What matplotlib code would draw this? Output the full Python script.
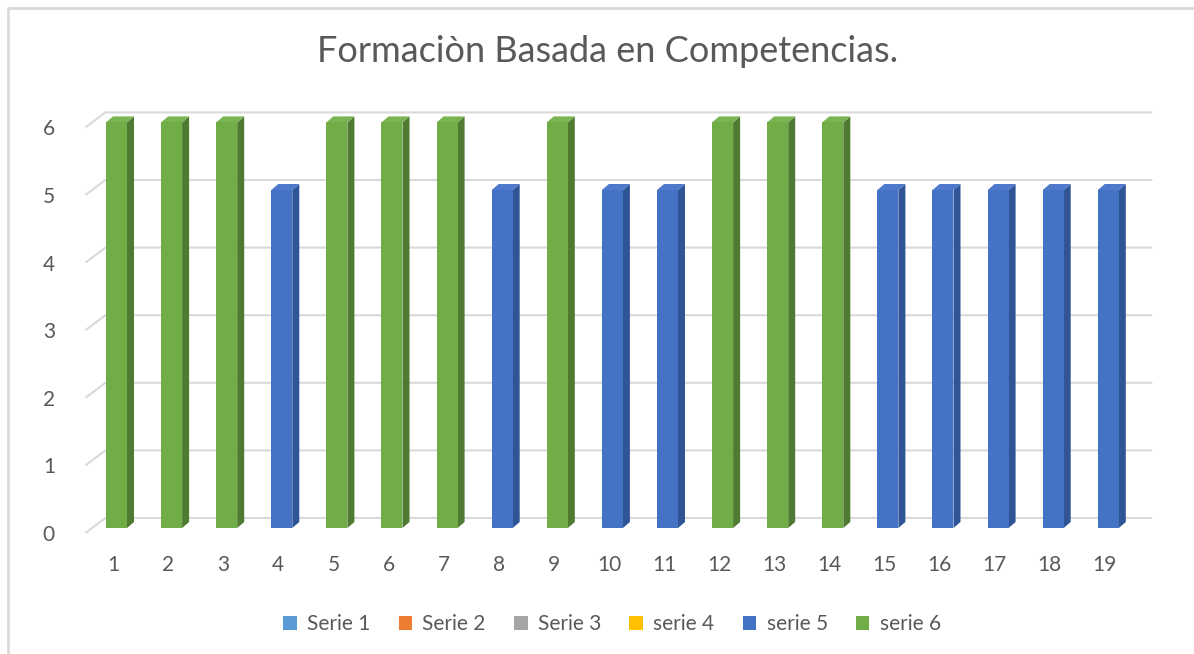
"""Formaciòn Basada en Competencias - 3D-style column chart."""
import numpy as np
import matplotlib
matplotlib.use('Agg')
import matplotlib.pyplot as plt
from matplotlib.patches import Patch
from matplotlib.lines import Line2D

plt.rcParams['font.family'] = ['Lato', 'DejaVu Sans']

# data
categories = [str(i) for i in range(1, 20)]
serie5 = [0, 0, 0, 5, 0, 0, 0, 5, 0, 5, 5, 0, 0, 0, 5, 5, 5, 5, 5]
serie6 = [6, 6, 6, 0, 6, 6, 6, 0, 6, 0, 0, 6, 6, 6, 0, 0, 0, 0, 0]
legend_names = ['Serie 1', 'Serie 2', 'Serie 3', 'serie 4', 'serie 5', 'serie 6']
legend_colors = ['#5B9BD5', '#ED7D31', '#A5A5A5', '#FFC000', '#4472C4', '#70AD47']
yticks = [0, 1, 2, 3, 4, 5, 6]

C_BLUE = ('#4472C4', '#2F5597', '#4F7ACB')    # front, side, top
C_GREEN = ('#70AD47', '#4E7A31', '#78B451')
GRID = '#D9D9D9'
TXT = '#595959'

W, H = 1194, 654
fig = plt.figure(figsize=(W / 100, H / 100), dpi=100)

# front plane in pixels
PX_CAT = 55.1
PX_UNIT = 67.6
x_left = 113 - 0.5 * PX_CAT
x_right = 113 + 18.5 * PX_CAT
y_bot = 533
y_top = y_bot - 6 * PX_UNIT
ax = fig.add_axes([x_left / W, (H - y_bot) / H, (x_right - x_left) / W, (y_bot - y_top) / H])
ax.set_xlim(0.5, 19.5)
ax.set_ylim(0, 6)
for s in ax.spines.values():
    s.set_visible(False)
ax.set_facecolor('none')

def px_x(p):
    return p / PX_CAT

def px_y(p):
    return p / PX_UNIT

# back wall gridlines
DX, DY = px_x(20), px_y(15)
for yv in yticks:
    ax.plot([0.5, 0.5 + DX, 19.5 + DX], [yv, yv + DY, yv + DY], color=GRID,
            lw=1.5, clip_on=False, zorder=1, solid_capstyle='butt')

# bars with fake depth
bx, by = px_x(3.5), px_y(5)
bw = px_x(21)
sdx, sdy = px_x(7), px_y(6)
xs = np.arange(1, 20)
for vals, (cf, cs, ct) in [(serie5, C_BLUE), (serie6, C_GREEN)]:
    for x, v in zip(xs, vals):
        if v == 0:
            continue
        l = x + bx - bw / 2
        r = l + bw
        b = by
        t = v + by
        ax.fill([r, r + sdx, r + sdx, r], [b, b + sdy, t + sdy, t], color=cs,
                lw=0, clip_on=False, zorder=3)
        ax.fill([l, r, r + sdx, l + sdx], [t, t, t + sdy, t + sdy], color=ct,
                lw=0, clip_on=False, zorder=3)
        ax.bar(x + bx, v, bottom=b, width=bw, color=cf, lw=0, zorder=4, clip_on=False)

ax.set_xticks(xs)
ax.set_xticklabels(categories)
ax.set_yticks(yticks)
ax.tick_params(axis='both', length=0, labelsize=15, labelcolor=TXT)
ax.tick_params(axis='x', pad=16)
ax.tick_params(axis='y', pad=22)

fig.text(608 / W, 1 - 52 / H, 'Formaciòn Basada en Competencias.', ha='center', va='center',
         fontsize=26, color=TXT)

handles = [Patch(facecolor=c, edgecolor='none') for c in legend_colors]
fig.legend(handles, legend_names, loc='center', bbox_to_anchor=(612 / W, 1 - 624 / H), ncol=6,
           frameon=False, fontsize=15, labelcolor=TXT, handlelength=0.65, handleheight=0.65,
           handletextpad=0.5, columnspacing=1.35)

# chart border (only left/top visible in the crop)
fig.add_artist(Line2D([8 / W, 8 / W, 1.0], [0.0, 1 - 8 / H, 1 - 8 / H],
                      transform=fig.transFigure, color=GRID, lw=2))

fig.savefig('out.png', dpi=100)
